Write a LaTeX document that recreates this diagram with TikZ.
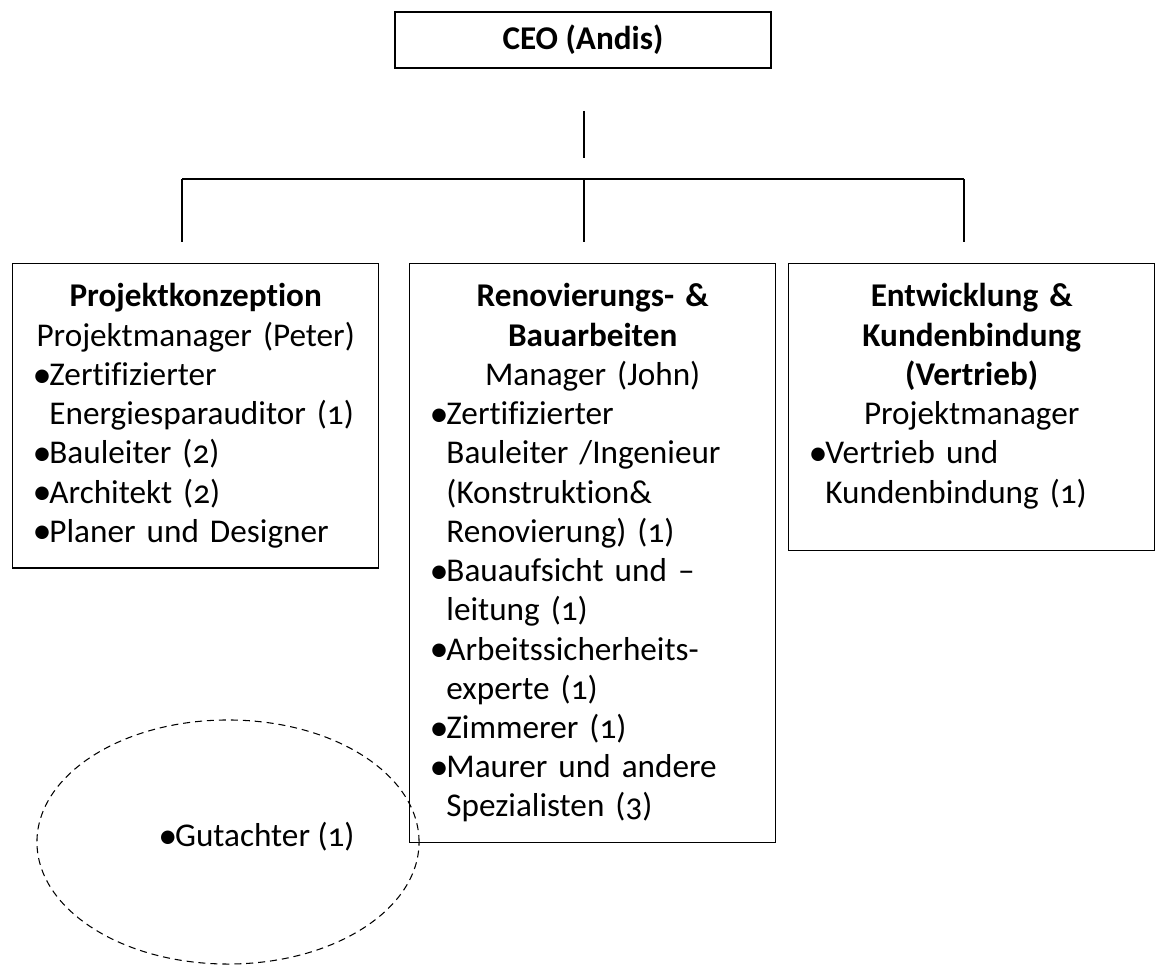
\documentclass[tikz,border=0pt]{standalone}
\usepackage{graphicx}
\usepackage{fontspec}
\setmainfont{Carlito}[Numbers=OldStyle, Ligatures={TeX,NoCommon}]
\usetikzlibrary{shapes.geometric, positioning}

\newcommand{\orgfont}{\fontsize{23.6}{27.9}\selectfont\setlength{\parindent}{0pt}}
\newlength{\bulw}\setlength{\bulw}{0.42cm}
\newcommand{\orgbullet}{\makebox[\bulw][l]{\raisebox{-0.05em}{\scalebox{1.15}{\textbullet}}}}
% centred heading lines of a box
\newcommand{\orghead}[1]{{\centering #1\par}}
% one bullet entry, hanging under its first word
\newcommand{\orgitem}[1]{\par{\raggedright\let\\\newline\hangindent=\bulw\hangafter=1\noindent\orgbullet#1\par}}

\begin{document}
\begin{tikzpicture}[
		x=0.025cm, y=-0.025cm,
		orgbox/.style={draw, line width=0.9pt, anchor=north west, inner xsep=0.5cm, inner ysep=0.5cm, text width=8.15cm, font=\orgfont},
		link/.style={line width=0.9pt},
		oval/.style={ellipse, draw, dash pattern=on 5pt off 3.5pt, line width=0.75pt, minimum width=9.55cm, minimum height=6.1cm}
		]
		\useasboundingbox (0,0) rectangle (1156,965);
		
		% ==========================================
		% 1. TOP OF THE CHART
		% ==========================================
		\node[draw, line width=0.9pt, minimum width=9.4cm, minimum height=1.4cm, font=\orgfont\bfseries] (ceo) at (583,40) {CEO (Andis)};
		
		% ==========================================
		% 2. THE THREE DEPARTMENTS
		% ==========================================
		\node[orgbox] (konz) at (12,263) {%
			\orghead{\textbf{Projektkonzeption}\\Projektmanager (Peter)}%
			\orgitem{Zertifizierter\\Energiesparauditor (1)}%
			\orgitem{Bauleiter (2)}%
			\orgitem{Architekt (2)}%
			\orgitem{Planer und Designer}};
		
		\node[orgbox] (bau) at (409,263) {%
			\orghead{\textbf{Renovierungs- \&\\Bauarbeiten}\\Manager (John)}%
			\orgitem{Zertifizierter\\Bauleiter /Ingenieur\\(Konstruktion\&\\Renovierung) (1)}%
			\orgitem{Bauaufsicht und --\\leitung (1)}%
			\orgitem{Arbeitssicherheits-\\experte (1)}%
			\orgitem{Zimmerer (1)}%
			\orgitem{Maurer und andere\\Spezialisten (3)}};
		
		\node[orgbox] (vertrieb) at (788,263) {%
			\orghead{\textbf{Entwicklung \&\\Kundenbindung\\(Vertrieb)}\\Projektmanager}%
			\orgitem{Vertrieb und\\Kundenbindung (1)}%
			\kern 0.55cm};
		
		% ==========================================
		% 3. CONNECTING LINES
		% ==========================================
		\coordinate (stem-top) at (584,111);
		\coordinate (stem-bot) at (584,158);
		\draw[link] (stem-top) -- (stem-bot);
		
		\foreach \c/\x in {l/182, m/584, r/964} {
			\coordinate (bus-\c) at (\x,179);
			\coordinate (drop-\c) at (\x,242);
			\draw[link] (bus-\c) -- (drop-\c);
		}
		\draw[link] (bus-l) -- (bus-r);
		
		% ==========================================
		% 4. EXTERNAL EXPERT
		% ==========================================
		\node[oval] (gut-oval) at (228,842) {};
		\node[anchor=west, inner sep=0pt, font=\orgfont] (gut) at (158,837) {\orgbullet Gutachter (1)};
		
	\end{tikzpicture}
\end{document}
